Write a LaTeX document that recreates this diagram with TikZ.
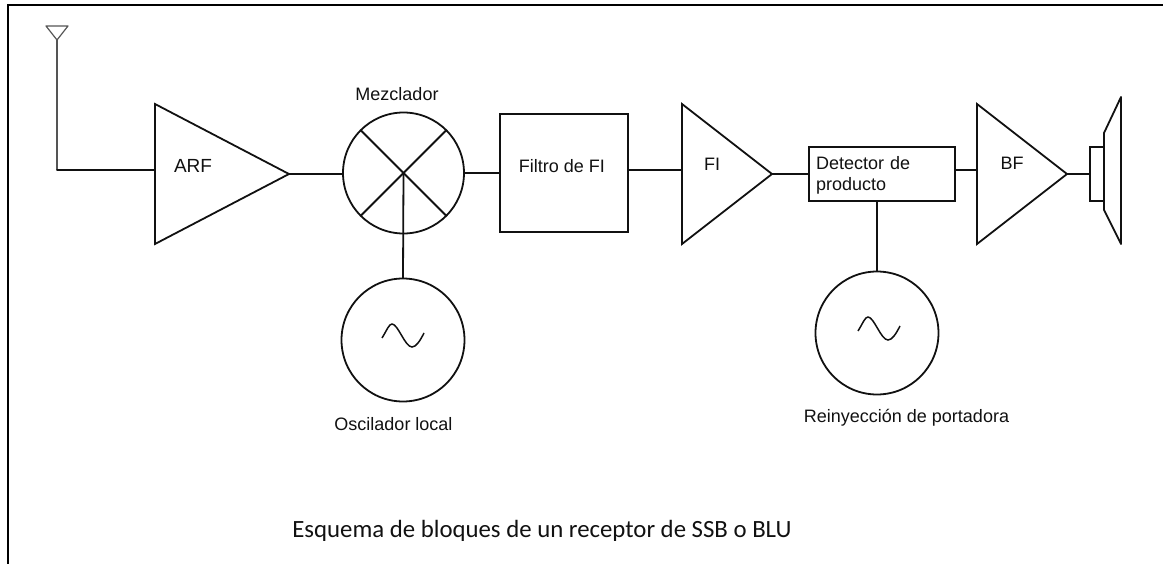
\documentclass[tikz,border=0pt]{standalone}
\usepackage{fontspec}
\setmainfont{Liberation Sans}
\newfontfamily\titulofont{Carlito}
\usetikzlibrary{shapes,positioning,calc}
\definecolor{Trazo}{HTML}{111111}
\definecolor{Antena}{HTML}{555555}

\begin{document}
\begin{tikzpicture}
[x=1pt,y=-1pt,
    every node/.style={text=Trazo,font=\fontsize{18}{21}\selectfont},
    conn/.style={line width=1.8pt,Trazo,line join=round},
    amp/.style={isosceles triangle,isosceles triangle stretches,draw=Trazo,line width=1.8pt,inner sep=0pt,outer sep=0pt,anchor=lower side,minimum width=140pt},
    circulo/.style={circle,draw=Trazo,line width=1.8pt,inner sep=0pt,outer sep=0pt},
    caja/.style={rectangle,draw=Trazo,line width=1.8pt,inner sep=0pt,outer sep=0pt},
    etiqueta/.style={inner sep=0pt}]

\useasboundingbox (0,0) rectangle (1163,564);

%% marco
\draw[line width=2pt,black] (8,564) -- (8,5) -- (1163,5);

%% cadena principal
\node[amp,minimum height=134pt] (arf) at (155,174) {};
\node[circulo,minimum size=121pt] (mez) at (403.5,173) {};
\node[caja,minimum width=128pt,minimum height=118pt] (filtro) at (564,173) {};
\node[amp,minimum height=90pt] (fi) at (682,174) {};
\node[caja,minimum width=146pt,minimum height=54pt] (det) at (882,174) {};
\node[amp,minimum height=90pt] (bf) at (977,174) {};
\node[caja,minimum width=14pt,minimum height=54pt] (alt) at (1097,174) {};

%% osciladores
\node[circulo,minimum size=123pt] (osc1) at (403,340) {};
\node[circulo,minimum size=123pt] (osc2) at (877,333) {};
\foreach \osc/\dx in {osc1/0,osc2/2}{
\begin{scope}[shift={(\osc.center)},xshift=\dx pt]
\draw[line width=1.5pt,Trazo] (-21,-2) .. controls (-16,-10) and (-14,-16) .. (-11,-16)
  .. controls (-5,-16) and (2,7) .. (9,7) .. controls (13,7) and (17,1) .. (21,-7);
\end{scope}
}

%% textos
\node[etiqueta,font=\fontsize{19}{22}\selectfont] (tarf) at (193,166) {ARF};
\node[etiqueta] (tmez) at (397,94) {Mezclador};
\node[etiqueta] (tfiltro) at (562,166) {Filtro de FI};
\node[etiqueta] (tfi) at (712,164) {FI};
\node[etiqueta,text width=132pt,align=left] (tdet) at (882,175.5) {Detector de\\producto};
\node[etiqueta] (tbf) at (1012,163) {BF};
\node[etiqueta] (tosc1) at (393.5,424) {Oscilador local};
\node[etiqueta] (tosc2) at (906.5,418) {Reinyección de portadora};
\node[etiqueta,font=\titulofont\fontsize{24.8}{28}\selectfont] (titulo) at (542,531) {Esquema de bloques de un receptor de SSB o BLU};

%% antena
\coordinate (ant) at (57,40);
\coordinate (ent) at (155,170);
\coordinate (sal) at (682,170);
\coordinate (sal2) at (977,170);
\draw[line width=1.2pt,Antena,line join=round] (ant) -- ++(-11,-14) -- ++(22,0) -- cycle;
\draw[conn,Antena] (ant) -- (ant |- ent);
\draw[conn,line cap=round] (ant |- ent) -- (ent);

%% conexiones
\draw[conn] (arf.apex) -- (mez.west |- arf.apex);
\draw[conn] (mez.north west) -- (mez.south east);
\draw[conn] (mez.north east) -- (mez.south west);
\draw[conn] (mez.center) -- (osc1.north);
\draw[conn] (mez.east) -- (filtro.west);
\draw[conn] (filtro.east |- sal) -- (sal);
\draw[conn] (fi.apex) -- (det.west |- fi.apex);
\draw[conn] (det.east |- sal2) -- (sal2);
\draw[conn] (osc2.north) -- (osc2.north |- det.south);
\draw[conn] (bf.apex) -- (alt.west);

%% altavoz
\draw[conn] ([yshift=14pt]alt.north east) -- ++(17,-36) -- ++(0,147) -- ++(-17,-34) -- cycle;

\end{tikzpicture}
\end{document}
